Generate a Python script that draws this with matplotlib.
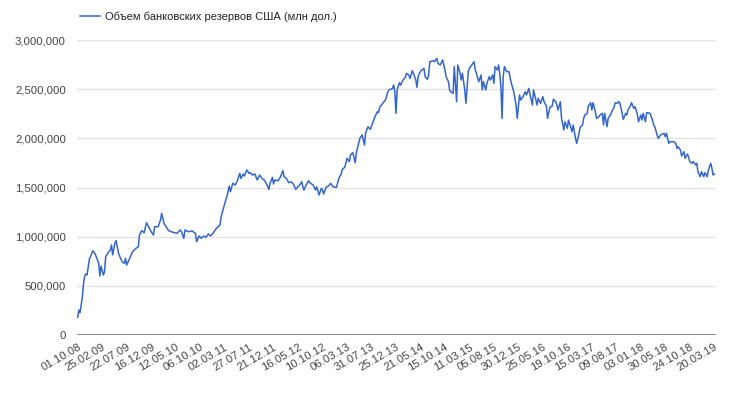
import numpy as np
import matplotlib
matplotlib.use("Agg")
import matplotlib.pyplot as plt
from matplotlib.ticker import FuncFormatter

# неделя от 01.10.08 и объем резервов (тыс. -> млн дол. на графике)
weeks = [
    0, 1, 2, 4, 5, 6, 7, 8, 10, 13, 15, 18, 19, 20, 22, 23, 24, 26, 28, 29,
    30, 32, 33, 35, 38, 40, 41, 42, 44, 47, 50, 52, 53, 55, 57, 59, 61, 63, 65, 66,
    69, 71, 72, 74, 78, 81, 85, 88, 89, 91, 92, 95, 98, 101, 102, 104, 106, 108, 110, 112,
    114, 116, 118, 119, 122, 123, 125, 127, 128, 130, 131, 133, 135, 137, 139, 140, 142, 143, 145, 147,
    148, 150, 152, 154, 156, 158, 160, 162, 164, 165, 167, 168, 169, 172, 174, 176, 177, 179, 181, 183,
    185, 187, 189, 191, 192, 194, 196, 198, 199, 202, 204, 205, 207, 209, 210, 211, 213, 215, 217, 219,
    222, 224, 226, 227, 229, 230, 231, 233, 234, 236, 238, 239, 242, 244, 246, 247, 249, 251, 254, 255,
    257, 258, 259, 262, 264, 266, 267, 270, 271, 272, 273, 274, 276, 277, 279, 281, 282, 284, 285, 287,
    288, 290, 291, 292, 293, 295, 297, 298, 300, 301, 302, 305, 306, 308, 309, 311, 313, 315, 316, 318,
    319, 320, 322, 323, 325, 326, 328, 329, 330, 332, 333, 335, 336, 338, 340, 341, 342, 344, 346, 347,
    348, 350, 351, 353, 354, 356, 357, 358, 360, 361, 362, 363, 364, 365, 366, 368, 370, 371, 372, 374,
    376, 377, 379, 380, 382, 384, 385, 387, 388, 390, 391, 392, 394, 395, 397, 399, 400, 402, 403, 405,
    407, 408, 410, 411, 412, 414, 415, 417, 418, 420, 421, 424, 425, 427, 428, 430, 431, 433, 434, 435,
    437, 438, 440, 441, 442, 444, 445, 447, 448, 450, 451, 452, 454, 455, 457, 458, 460, 461, 463, 464,
    465, 467, 468, 470, 471, 472, 474, 475, 477, 478, 480, 481, 483, 484, 485, 487, 488, 491, 493, 494,
    495, 497, 498, 500, 503, 504, 505, 507, 508, 511, 513, 514, 515, 517, 518, 520, 521, 523, 524, 525,
    527, 528, 530, 531, 532, 534, 535, 537, 538, 540, 541, 543, 544, 545, 546,
]
reserves = [
    180, 254, 227, 390, 525, 600, 620, 610, 770, 857, 824, 729, 600, 702, 610, 644, 796, 837, 864, 915,
    814, 939, 959, 831, 746, 729, 780, 712, 763, 847, 881, 898, 1017, 1061, 1040, 1142, 1095, 1050, 1017, 1101,
    1101, 1169, 1237, 1135, 1061, 1047, 1034, 1068, 1050, 983, 1068, 1050, 1058, 1034, 949, 1007, 983, 1007, 993, 1027,
    1007, 1034, 1068, 1085, 1119, 1203, 1288, 1373, 1407, 1515, 1457, 1543, 1525, 1569, 1644, 1593, 1637, 1617, 1678, 1644,
    1650, 1627, 1637, 1576, 1627, 1593, 1576, 1535, 1481, 1542, 1603, 1535, 1576, 1569, 1610, 1671, 1610, 1593, 1549, 1559,
    1535, 1481, 1508, 1535, 1559, 1474, 1525, 1569, 1549, 1525, 1474, 1508, 1424, 1492, 1474, 1434, 1502, 1515, 1542, 1508,
    1502, 1593, 1637, 1685, 1705, 1746, 1797, 1763, 1830, 1854, 1752, 1854, 2000, 2034, 1932, 2057, 2118, 2091, 2186, 2220,
    2271, 2261, 2315, 2362, 2390, 2474, 2492, 2508, 2542, 2474, 2254, 2492, 2566, 2542, 2593, 2620, 2661, 2644, 2610, 2688,
    2661, 2593, 2519, 2627, 2661, 2695, 2712, 2627, 2600, 2644, 2779, 2790, 2779, 2813, 2763, 2746, 2797, 2695, 2627, 2576,
    2492, 2474, 2457, 2729, 2373, 2746, 2661, 2593, 2661, 2492, 2356, 2678, 2712, 2746, 2779, 2695, 2661, 2576, 2644, 2492,
    2576, 2492, 2559, 2627, 2593, 2644, 2559, 2729, 2695, 2746, 2661, 2525, 2203, 2627, 2729, 2678, 2678, 2610, 2559, 2474,
    2339, 2203, 2441, 2390, 2424, 2474, 2441, 2508, 2441, 2339, 2492, 2441, 2339, 2407, 2356, 2424, 2373, 2329, 2203, 2315,
    2329, 2397, 2373, 2339, 2288, 2373, 2203, 2085, 2169, 2102, 2186, 2068, 2135, 2000, 1949, 2051, 2112, 2135, 2203, 2237,
    2254, 2329, 2362, 2288, 2362, 2271, 2203, 2220, 2237, 2254, 2135, 2254, 2118, 2203, 2237, 2271, 2315, 2362, 2356, 2373,
    2362, 2254, 2193, 2254, 2237, 2288, 2329, 2362, 2305, 2322, 2247, 2169, 2237, 2186, 2254, 2169, 2261, 2254, 2186, 2135,
    2118, 2034, 2000, 2034, 2051, 2017, 2051, 1949, 1966, 1966, 1949, 1898, 1915, 1881, 1820, 1864, 1797, 1841, 1807, 1763,
    1746, 1763, 1729, 1746, 1661, 1610, 1661, 1610, 1651, 1610, 1678, 1746, 1695, 1627, 1637,
]
tick_labels = [
    "01.10.08", "25.02.09", "22.07.09", "16.12.09", "12.05.10", "06.10.10",
    "02.03.11", "27.07.11", "21.12.11", "16.05.12", "10.10.12", "06.03.13",
    "31.07.13", "25.12.13", "21.05.14", "15.10.14", "11.03.15", "05.08.15",
    "30.12.15", "25.05.16", "19.10.16", "15.03.17", "09.08.17", "03.01.18",
    "30.05.18", "24.10.18", "20.03.19",
]
tick_step = 21  # подпись каждые 21 неделю

plt.rcParams["font.family"] = ["Liberation Sans", "DejaVu Sans"]

fig = plt.figure(figsize=(7.3, 3.96), dpi=100)
ax = fig.add_axes([77 / 730, 61 / 396, 639 / 730, 295 / 396])

vals = np.array(reserves) * 1000
ax.plot(weeks, vals, color="#3366cc", lw=1.1,
        label="Объем банковских резервов США (млн дол.)")

ax.set_ylim(0, 3_000_000)
ax.set_yticks(np.arange(0, 3_000_001, 500_000))
ax.yaxis.set_major_formatter(FuncFormatter(lambda v, p: f"{int(v):,}"))
ax.set_xlim(-0.6, 547.5)
ax.set_xticks(np.arange(len(tick_labels)) * tick_step)
ax.set_xticklabels(tick_labels, rotation=30, ha="right", rotation_mode="anchor")

ax.grid(axis="y", color="#e3e3e3", lw=1)
ax.set_axisbelow(True)
ax.axhline(0, color="#8a8a8a", lw=1.4)
for s in ax.spines.values():
    s.set_visible(False)
ax.tick_params(length=0, colors="#444444", labelsize=8.2)
ax.tick_params(axis="y", pad=8)
ax.tick_params(axis="x", pad=5)

ax.legend(loc="lower left", bbox_to_anchor=(-0.003, 1.045), frameon=False,
          fontsize=8, handlelength=1.8, handletextpad=0.45, borderaxespad=0,
          labelcolor="#222222")

fig.savefig("out.png", dpi=100)
